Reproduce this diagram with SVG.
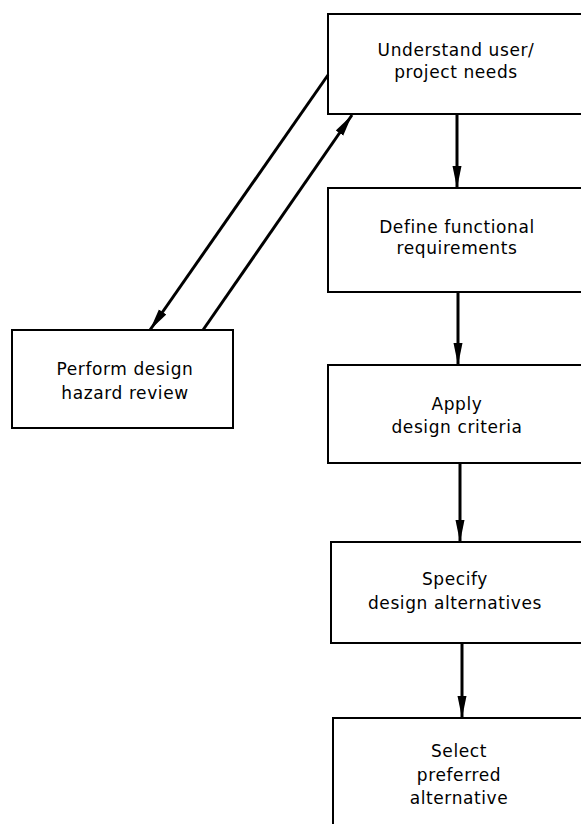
<svg xmlns="http://www.w3.org/2000/svg" width="581" height="824" viewBox="0 0 581 824">
<style>
.box{fill:#fff;stroke:#000;stroke-width:2}
.lbl{font-family:"DejaVu Sans",sans-serif;font-size:17px;letter-spacing:0.6px;text-anchor:middle;fill:#000}
.con{stroke:#000;stroke-width:3;fill:none}
</style>
<defs>
<marker id="ah" markerUnits="userSpaceOnUse" markerWidth="24" markerHeight="12" refX="22" refY="6" orient="auto">
<path d="M0,1.5 L22,6 L0,10.5 Z" fill="#000"/>
</marker>
</defs>
<rect width="581" height="824" fill="#fff"/>
<g id="n1">
<rect class="box" x="328" y="14" width="300" height="100"/>
<text class="lbl" x="456" y="56">Understand user/</text>
<text class="lbl" x="456" y="78">project needs</text>
</g>
<g id="n2">
<rect class="box" x="328" y="188" width="300" height="104"/>
<text class="lbl" x="457" y="233">Define functional</text>
<text class="lbl" x="457" y="254">requirements</text>
</g>
<g id="n3">
<rect class="box" x="328" y="365" width="300" height="98"/>
<text class="lbl" x="457" y="410">Apply</text>
<text class="lbl" x="457" y="433">design criteria</text>
</g>
<g id="n4">
<rect class="box" x="331" y="542" width="300" height="101"/>
<text class="lbl" x="455" y="585">Specify</text>
<text class="lbl" x="455" y="609">design alternatives</text>
</g>
<g id="n5">
<rect class="box" x="333" y="718" width="300" height="130"/>
<text class="lbl" x="459" y="757">Select</text>
<text class="lbl" x="459" y="781">preferred</text>
<text class="lbl" x="459" y="804">alternative</text>
</g>
<g id="n6">
<rect class="box" x="12" y="330" width="221" height="98"/>
<text class="lbl" x="125" y="375">Perform design</text>
<text class="lbl" x="125" y="399">hazard review</text>
</g>
<g id="connectors">
<line class="con" x1="457" y1="114" x2="457" y2="188" marker-end="url(#ah)"/>
<line class="con" x1="458" y1="292" x2="458" y2="365" marker-end="url(#ah)"/>
<line class="con" x1="460" y1="463" x2="460" y2="542" marker-end="url(#ah)"/>
<line class="con" x1="462" y1="643" x2="462" y2="718" marker-end="url(#ah)"/>
<line class="con" x1="328" y1="75" x2="150" y2="330" marker-end="url(#ah)"/>
<line class="con" x1="203" y1="330" x2="352" y2="115" marker-end="url(#ah)"/>
</g>
</svg>
